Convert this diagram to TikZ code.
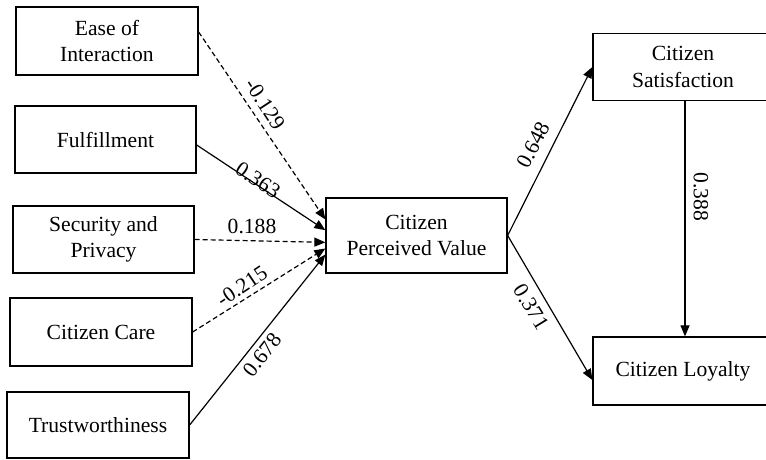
\documentclass[tikz,border=0pt]{standalone}
\usepackage{fontspec}
\setmainfont{Liberation Serif}
\usetikzlibrary{arrows.meta,calc}
\tikzset{
  box/.style={draw, line width=1.3pt, inner sep=0pt, align=center,
    font=\fontsize{21.6pt}{26.5pt}\selectfont},
  lbl/.style={inner sep=0pt, font=\fontsize{21.6pt}{26pt}\selectfont},
  conn/.style={-{Triangle[length=11pt,width=9pt]}, line width=1.2pt},
  dconn/.style={conn, dash pattern=on 5pt off 3pt}
}
\begin{document}
\begin{tikzpicture}[x=1pt,y=-1pt]
\useasboundingbox (0,0) rectangle (766,459);
\clip (0,0) rectangle (766,459);
% left boxes
\node[box, minimum width=182pt, minimum height=68pt] (ease) at (107,41) {Ease of\\Interaction};
\node[box, minimum width=181pt, minimum height=67pt] (ful) at (105.5,139.5) {Fulfillment};
\node[box, minimum width=181pt, minimum height=67pt] (sec) at (103.5,239.5) {Security and\\Privacy};
\node[box, minimum width=182pt, minimum height=68pt] (care) at (101,332) {Citizen Care};
\node[box, minimum width=182pt, minimum height=66pt] (trust) at (98,425) {Trustworthiness};
% centre
\node[box, minimum width=181pt, minimum height=75pt] (cpv) at (416.5,235.5) {Citizen\\Perceived Value};
% right
\node[box, minimum width=180pt, minimum height=67pt] (sat) at (683,67) {Citizen\\Satisfaction};
\node[box, minimum width=180pt, minimum height=68pt] (loy) at (683,371) {Citizen Loyalty};
% anchor points
\coordinate (t1) at ($(cpv.north west)!0.29!(cpv.south west)$);
\coordinate (t2) at ($(cpv.north west)!0.43!(cpv.south west)$);
\coordinate (t3) at ($(cpv.north west)!0.59!(cpv.south west)$);
\coordinate (t4) at ($(cpv.north west)!0.67!(cpv.south west)$);
\coordinate (t5) at ($(cpv.north west)!0.75!(cpv.south west)$);
\coordinate (s1) at ($(ease.north east)!0.37!(ease.south east)$);
\coordinate (s2) at ($(ful.north east)!0.58!(ful.south east)$);
\coordinate (lt) at ($(loy.north west)!0.63!(loy.south west)$);
\coordinate (sd) at ($(sat.south)+(2,0)$);
% connectors
\draw[dconn] (s1) -- (t1);
\draw[conn] (s2) -- (t2);
\draw[dconn] (sec.east) -- (t3);
\draw[dconn] (care.east) -- (t4);
\draw[conn] (trust.east) -- (t5);
\draw[conn] (cpv.east) -- (sat.west);
\draw[conn] (cpv.east) -- (lt);
\draw[conn] (sd) -- (sd |- loy.north);
% labels
\node[lbl, rotate=-56.8] (l1) at (265,104) {-0.129};
\node[lbl, rotate=-33.8] (l2) at (258,180) {0.363};
\node[lbl] (l3) at (252,226) {0.188};
\node[lbl, rotate=33.8] (l4) at (242,286) {-0.215};
\node[lbl, rotate=52] (l5) at (262,355) {0.678};
\node[lbl, rotate=62.6] (l6) at (533,145) {0.648};
\node[lbl, rotate=-58.6] (l7) at (531,307) {0.371};
\node[lbl, rotate=-90] (l8) at (701,197) {0.388};
\end{tikzpicture}
\end{document}
